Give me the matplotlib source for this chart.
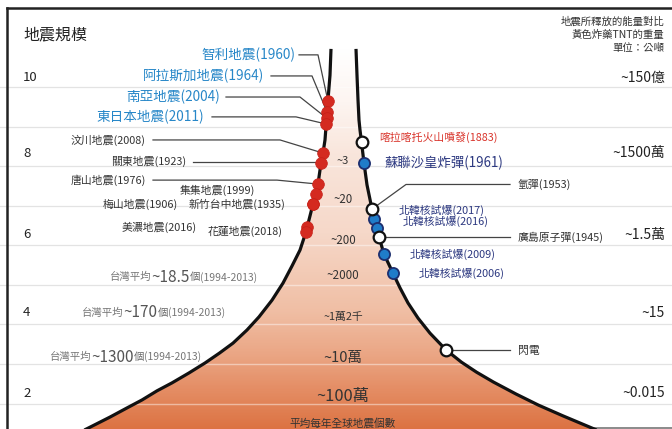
import numpy as np
import matplotlib.pyplot as plt
from matplotlib.colors import LinearSegmentedColormap
from matplotlib.patches import Polygon

plt.rcParams['font.family'] = ['Noto Sans CJK TC', 'DejaVu Sans']

# 地震規模軸 (y = 規模)
scale_labels = ['10', '8', '6', '4', '2']
scale_pos = [9.9, 8.0, 5.96, 3.99, 1.97]
energy_labels = ['~150億', '~1500萬', '~1.5萬', '~15', '~0.015']
grid_levels = [9.67, 8.67, 7.69, 6.68, 5.70, 4.69, 3.71, 2.70, 1.70]

# 漏斗外形 (規模, x)
left_mag = [10.63, 9.97, 9.35, 8.84, 8.34, 8.01, 7.76, 7.23, 6.96, 6.73, 6.43, 6.03, 5.80, 5.57,
            5.17, 4.74, 4.31, 3.89, 3.56, 3.23, 2.98, 2.73, 2.48, 2.23, 2.03, 1.80, 1.60, 1.37, 1.09, 1.04]
left_x = [331, 330, 328, 326.5, 325, 323, 321, 318, 315.5, 313, 310, 306, 303, 300,
          292, 283, 272, 259, 247, 233, 219.5, 205, 189, 172, 157, 142, 127, 110, 88, 84]
right_mag = [10.63, 9.97, 9.35, 8.84, 8.59, 8.29, 7.76, 7.21, 6.60, 6.13, 5.90, 5.47, 4.99, 4.62,
             4.24, 3.86, 3.48, 3.06, 2.75, 2.50, 2.25, 1.95, 1.67, 1.40, 1.12, 1.04]
right_x = [356, 357, 358, 359, 360, 361.5, 364, 367, 372, 376.5, 379, 384, 393, 400,
           408, 418, 430, 446, 461.5, 476.5, 493.5, 516, 538.5, 563, 589.5, 597]

# 地震
quake_names = ['智利地震(1960)', '阿拉斯加地震(1964)', '南亞地震(2004)', '東日本地震(2011)',
               '汶川地震(2008)', '關東地震(1923)', '唐山地震(1976)', '集集地震(1999)',
               '梅山地震(1906)', '新竹台中地震(1935)', '美濃地震(2016)', '花蓮地震(2018)']
quake_mag = [9.32, 9.04, 8.89, 8.74, 8.01, 7.76, 7.23, 6.98, 6.73, 6.73, 6.15, 6.02]

# 其他能量事件
blast_names = ['喀拉喀托火山噴發(1883)', '蘇聯沙皇炸彈(1961)', '氫彈(1953)', '北韓核試爆(2017)',
               '北韓核試爆(2016)', '廣島原子彈(1945)', '北韓核試爆(2009)', '北韓核試爆(2006)', '閃電']
blast_mag = [8.29, 7.76, 6.60, 6.35, 6.13, 5.90, 5.47, 4.99, 3.06]
blast_nuke = [False, True, False, True, True, False, True, True, False]

# 每年全球地震個數
count_labels = ['~3', '~20', '~200', '~2000', '~1萬2千', '~10萬', '~100萬']
count_pos = [7.81, 6.83, 5.82, 4.92, 3.89, 2.86, 1.90]
count_size = [8, 8.3, 8.3, 8.4, 7.8, 10.5, 11.8]

# 台灣平均
tw_avg = ['~18.5', '~170', '~1300']
tw_pos = [4.89, 3.99, 2.88]

fig = plt.figure(figsize=(6.72, 4.29), dpi=100)
ax = fig.add_axes([0, 0, 1, 1])
ax.set_xlim(0, 672)
ax.set_ylim(1.07, 11.86)
ax.axis('off')

# 格線
for g in grid_levels:
    ax.axhline(g, color='#e3e3e3', lw=0.9, zorder=0)

# 漏斗漸層
lx = np.array(left_x)
lm = np.array(left_mag)
rx = np.array(right_x)
rm = np.array(right_mag)
verts = list(zip(lx, lm)) + list(zip(rx[::-1], rm[::-1]))
poly = Polygon(verts, closed=True, facecolor='none', edgecolor='none')
ax.add_patch(poly)

stops = [(1.04, '#dc7242'), (2.0, '#e48c63'), (3.0, '#eba887'), (4.0, '#f0bea4'),
         (5.0, '#f3cbb6'), (6.0, '#f6d8c9'), (8.0, '#f9e6dc'), (9.3, '#fdf5f1'), (10.63, '#ffffff')]
lo, hi = stops[0][0], stops[-1][0]
cmap = LinearSegmentedColormap.from_list('funnel', [((m - lo) / (hi - lo), c) for m, c in stops])
grad = np.linspace(lo, hi, 400).reshape(-1, 1)
im = ax.imshow(grad, extent=[80, 600, lo, hi], origin='lower', aspect='auto',
               cmap=cmap, vmin=lo, vmax=hi, zorder=1)
im.set_clip_path(poly)

for g in grid_levels:
    gl = ax.axhline(g, color='white', lw=1.0, alpha=0.45, zorder=1.5)
    gl.set_clip_path(poly)

ax.plot(lx, lm, color='#111111', lw=2.3, zorder=3, solid_capstyle='butt', solid_joinstyle='round')
ax.plot(rx, rm, color='#111111', lw=2.3, zorder=3, solid_capstyle='butt', solid_joinstyle='round')

# 邊框
ax.plot([7, 672], [11.66, 11.66], color='#222222', lw=1.8, zorder=4)
ax.plot([7, 7], [11.66, 1.0], color='#222222', lw=1.8, zorder=4)
ax.plot([590, 672], [1.09, 1.09], color='#777777', lw=1.2, zorder=2)

# 標題
ax.text(23, 10.98, '地震規模', fontsize=11.5, color='#222222', va='center', ha='left')
note = ['地震所釋放的能量對比', '黃色炸藥TNT的重量', '單位：公噸']
for i, s in enumerate(note):
    ax.text(664, 11.31 - 0.33 * i, s, fontsize=7.5, color='#333333', va='center', ha='right')

for lab, p in zip(scale_labels, scale_pos):
    ax.text(23, p, lab, fontsize=9.5, color='#222222', va='center', ha='left')
for lab, p in zip(energy_labels, scale_pos):
    ax.text(665, p, lab, fontsize=10, color='#222222', va='center', ha='right')

# 地震標記
qx = np.interp(quake_mag, lm[::-1], lx[::-1])
ax.plot(qx, quake_mag, 'o', ms=8.4, color='#d42a20', mec='#c62018', mew=0.5, zorder=5)

blue = '#2787c8'
dark = '#333333'
# (文字x, 文字y, 對齊, 顏色, 字級, 折點x, 線起點x)
quake_layout = [
    (295, 10.48, 'right', blue, 9.8, 318, 299),
    (264, 9.95, 'right', blue, 9.8, 312, 271),
    (220, 9.42, 'right', blue, 9.8, 300, 226),
    (204, 8.92, 'right', blue, 9.8, 296, 212),
    (146, 8.34, 'right', dark, 7.8, 280, 153),
    (186, 7.79, 'right', dark, 7.8, None, 193),
    (146, 7.33, 'right', dark, 7.8, 277, 153),
    (255, 7.08, 'right', dark, 7.8, False, 0),
    (178, 6.73, 'right', dark, 7.8, False, 0),
    (285, 6.73, 'right', dark, 7.8, False, 0),
    (197, 6.15, 'right', dark, 7.8, False, 0),
    (283, 6.03, 'right', dark, 7.8, False, 0),
]
for name, m, x, (tx, ty, ha, c, fs, elbow, x0) in zip(quake_names, quake_mag, qx, quake_layout):
    ax.text(tx, ty, name, fontsize=fs, color=c, ha=ha, va='center')
    if elbow is False:
        continue
    if elbow is None:
        ax.plot([x0, x], [ty, ty], color='#444444', lw=0.9, zorder=4)
    else:
        ax.plot([x0, elbow, x], [ty, ty, m], color='#444444', lw=0.9, zorder=4)

# 其他事件
bx = np.interp(blast_mag, rm[::-1], rx[::-1])
navy = '#2c3880'
blast_layout = [
    (379, 8.42, '#d9342b', 7.8, None),
    (385, 7.76, navy, 9.6, None),
    (518, 7.22, dark, 7.8, 'elbow'),
    (399, 6.58, navy, 7.8, None),
    (403, 6.28, navy, 7.8, None),
    (518, 5.90, dark, 7.8, 'flat'),
    (410, 5.45, navy, 7.8, None),
    (419, 4.99, navy, 7.8, None),
    (518, 3.04, dark, 7.8, 'flat'),
]
for name, m, x, (tx, ty, c, fs, line) in zip(blast_names, blast_mag, bx, blast_layout):
    ax.text(tx, ty, name, fontsize=fs, color=c, ha='left', va='center')
    if line == 'elbow':
        ax.plot([x, 406, 510], [m, ty, ty], color='#444444', lw=0.9, zorder=4)
    elif line == 'flat':
        ax.plot([x, 510], [m, m], color='#444444', lw=0.9, zorder=4)

bxa = np.array(bx)
bma = np.array(blast_mag)
nuke = np.array(blast_nuke)
ax.plot(bxa[nuke], bma[nuke], 'o', ms=8, color='#1f7cc9', mec='#1d2f6f', mew=1.3, zorder=5)
ax.plot(bxa[~nuke], bma[~nuke], 'o', ms=8.4, color='white', mec='#111111', mew=1.6, zorder=5)

# 每年全球地震個數
for lab, p, fs in zip(count_labels, count_pos, count_size):
    ax.text(343, p, lab, fontsize=fs, color='#333333', ha='center', va='center', zorder=6)
ax.text(343, 1.22, '平均每年全球地震個數', fontsize=7.7, color='#333333', ha='center', va='center', zorder=6)

# 台灣平均
for val, p, x0 in zip(tw_avg, tw_pos, [110, 82, 50]):
    t = ax.text(x0, p, '台灣平均', fontsize=7.5, color='#777777', ha='left', va='center')
    t = ax.annotate(val, xy=(1, 0.5), xycoords=t, fontsize=11, color='#555555', ha='left', va='center')
    t = ax.annotate('個', xy=(1, 0.5), xycoords=t, fontsize=7.5, color='#666666', ha='left', va='center')
    ax.annotate('(1994-2013)', xy=(1, 0.5), xycoords=t, fontsize=7.5, color='#777777', ha='left', va='center')

fig.savefig('out.png', dpi=100)
